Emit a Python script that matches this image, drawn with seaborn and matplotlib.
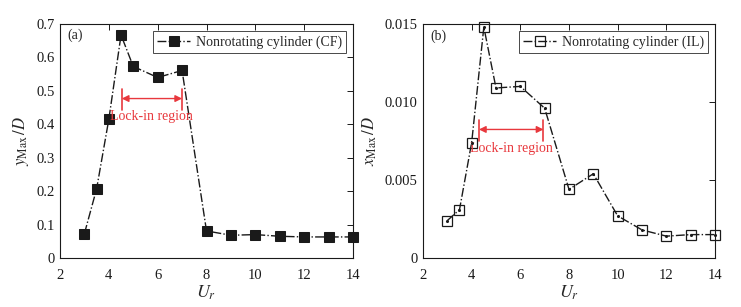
import numpy as np
import pandas as pd
import matplotlib
matplotlib.use("Agg")
import matplotlib.pyplot as plt
import seaborn as sns

sns.set_theme(style="white")
plt.rcParams['font.family'] = ['Liberation Serif', 'DejaVu Serif']
plt.rcParams['mathtext.fontset'] = 'stix'

# Reduced velocity
ur = [3, 3.5, 4, 4.5, 5, 6, 7, 8, 9, 10, 11, 12, 13, 14]
# Cross-flow amplitude y_Max/D
y_cf = [0.073, 0.207, 0.415, 0.667, 0.573, 0.540, 0.561, 0.081, 0.068, 0.070, 0.065, 0.063, 0.063, 0.063]
# In-line amplitude x_Max/D
x_il = [0.0024, 0.0031, 0.0074, 0.0148, 0.0109, 0.0110, 0.0096, 0.0044, 0.0054, 0.0027, 0.0018, 0.0014, 0.0015, 0.0015]

df = pd.DataFrame({'Ur': ur, 'CF': y_cf, 'IL': x_il})

fig = plt.figure(figsize=(7.41, 3.07), dpi=100)
ax1 = fig.add_axes([60/741, 49/307, 293/741, 234/307])
ax2 = fig.add_axes([423/741, 49/307, 292/741, 234/307])

red = '#e8383d'


def style_axis(ax):
    for s in ax.spines.values():
        s.set_color('k')
        s.set_linewidth(0.8)
    ax.tick_params(direction='in', length=4, width=0.7, top=True, right=True,
                   labelsize=10.5, colors='k')
    ax.tick_params(axis='x', pad=8)
    ax.tick_params(axis='y', pad=4)
    ax.set_xlim(2, 14)
    ax.set_xticks([2, 4, 6, 8, 10, 12, 14])
    ax.set_xlabel(r'$U_r$', fontsize=13, labelpad=1)


def lock_in(ax, x0, x1, ymid, ylo, yhi, ytext):
    ax.plot([x0, x0], [ylo, yhi], color=red, lw=1.2)
    ax.plot([x1, x1], [ylo, yhi], color=red, lw=1.2)
    ax.annotate('', xy=(x0, ymid), xytext=(x1, ymid),
                arrowprops=dict(arrowstyle='<|-|>', color=red, lw=1.0,
                                mutation_scale=10, shrinkA=0, shrinkB=0))
    ax.text((x0 + x1) / 2, ytext, 'Lock-in region', color=red, fontsize=10,
            ha='center', va='center')


def add_legend(ax):
    leg = ax.legend(loc='upper right', fontsize=10, frameon=True, fancybox=False,
                    edgecolor='k', borderpad=0.3, handlelength=2.4, borderaxespad=0.5,
                    handletextpad=0.4)
    leg.get_frame().set_linewidth(0.7)


# (a) cross-flow
sns.lineplot(data=df, x='Ur', y='CF', ax=ax1, color='k', linestyle='-.', lw=1.0,
             marker='s', markersize=7.5, markerfacecolor='k', markeredgecolor='k',
             label='Nonrotating cylinder (CF)', clip_on=False)
style_axis(ax1)
ax1.set_ylim(0, 0.7)
ax1.set_yticks(np.arange(0, 0.71, 0.1))
ax1.set_yticklabels(['0', '0.1', '0.2', '0.3', '0.4', '0.5', '0.6', '0.7'])
ax1.set_ylabel(r'$y_{\mathrm{Max}}\,/D$', fontsize=12, labelpad=4)
ax1.text(2.3, 0.665, '(a)', fontsize=10, va='center')
lock_in(ax1, 4.53, 7.0, 0.477, 0.444, 0.507, 0.422)
add_legend(ax1)

# (b) in-line
sns.lineplot(data=df, x='Ur', y='IL', ax=ax2, color='k', linestyle='-.', lw=1.0,
             marker='s', markersize=6.5, markerfacecolor='none', markeredgecolor='k',
             markeredgewidth=0.9, label='Nonrotating cylinder (IL)', clip_on=False)
ax2.scatter(df['Ur'], df['IL'], s=1.5, color='k', zorder=5, clip_on=False)
style_axis(ax2)
ax2.set_ylim(0, 0.015)
ax2.set_yticks([0, 0.005, 0.010, 0.015])
ax2.set_yticklabels(['0', '0.005', '0.010', '0.015'])
ax2.set_ylabel(r'$x_{\mathrm{Max}}\,/D$', fontsize=12, labelpad=4)
ax2.text(2.3, 0.0142, '(b)', fontsize=10, va='center')
lock_in(ax2, 4.3, 6.95, 0.00824, 0.00748, 0.00884, 0.0070)
add_legend(ax2)

fig.savefig('out.png', dpi=100)
